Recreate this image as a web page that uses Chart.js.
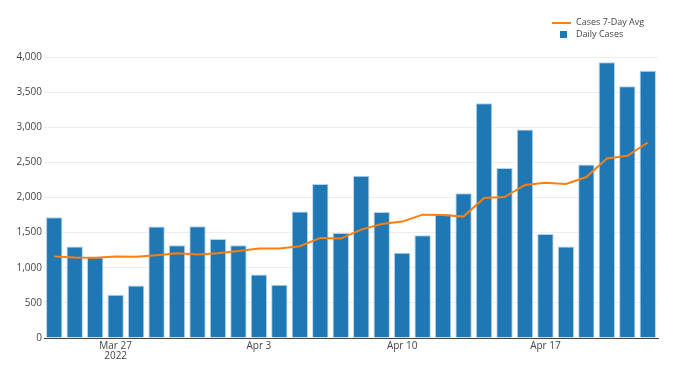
<!DOCTYPE html>
<html>
<head>
<meta charset="utf-8">
<script src="https://cdn.jsdelivr.net/npm/chart.js@4"></script>
<style>
  html, body { margin: 0; padding: 0; background: #fff; }
  #wrap { position: relative; width: 680px; height: 370px; }
  .legend { position: absolute; left: 552px; top: 16px; font-family: "Open Sans", sans-serif; font-size: 9px; color: #444; }
  .legend div { height: 12px; line-height: 12px; white-space: nowrap; }
  .swatch-line { display: inline-block; width: 19px; height: 2px; background: #ff7f0e; vertical-align: middle; margin-right: 5px; }
  .swatch-box { display: inline-block; width: 7px; height: 7px; background: #1f77b4; vertical-align: middle; margin: 0 9px 0 8px; }
</style>
</head>
<body>
<div id="wrap">
  <canvas id="casesChart" width="680" height="370"></canvas>
  <div class="legend">
    <div><span class="swatch-line"></span>Cases 7-Day Avg</div>
    <div><span class="swatch-box"></span>Daily Cases</div>
  </div>
</div>
<script>
// one entry per day, Mar 24 - Apr 22 2022
const days = [
    'Mar 24', 'Mar 25', 'Mar 26', 'Mar 27', 'Mar 28', 'Mar 29', 'Mar 30', 'Mar 31',
    'Apr 1', 'Apr 2', 'Apr 3', 'Apr 4', 'Apr 5', 'Apr 6', 'Apr 7', 'Apr 8', 'Apr 9',
    'Apr 10', 'Apr 11', 'Apr 12', 'Apr 13', 'Apr 14', 'Apr 15', 'Apr 16', 'Apr 17',
    'Apr 18', 'Apr 19', 'Apr 20', 'Apr 21', 'Apr 22'
];

const dailyCases = [
    1718, 1302, 1150, 615, 748, 1586, 1321, 1591, 1411, 1321, 904, 757, 1799, 2192, 1496,
    2310, 1794, 1212, 1463, 1766, 2059, 3342, 2419, 2968, 1482, 1302, 2471, 3924, 3583, 3806
];

const avgCases = [
    1160, 1146, 1141, 1160, 1155, 1179, 1207, 1188, 1207, 1240, 1273, 1273, 1306, 1425, 1415,
    1543, 1624, 1657, 1756, 1752, 1728, 1993, 2007, 2178, 2211, 2192, 2291, 2556, 2594, 2783
];

// labels shown under the x axis
const tickLabels = {
    'Mar 27': ['Mar 27', '2022'],
    'Apr 3': 'Apr 3',
    'Apr 10': 'Apr 10',
    'Apr 17': 'Apr 17'
};

const tickFont = { family: '"Open Sans", sans-serif', size: 10, lineHeight: 1.0 };

const ctx = document.getElementById('casesChart').getContext('2d');
new Chart(ctx, {
    data: {
        labels: days,
        datasets: [
            {
                type: 'line',
                label: 'Cases 7-Day Avg',
                data: avgCases,
                borderColor: '#ff7f0e',
                borderWidth: 2,
                pointRadius: 0,
                tension: 0,
                order: 0
            },
            {
                type: 'bar',
                label: 'Daily Cases',
                data: dailyCases,
                backgroundColor: '#1f77b4',
                borderColor: 'rgba(170, 205, 235, 0.9)',
                borderWidth: 1,
                barPercentage: 0.8,
                categoryPercentage: 1,
                order: 1
            }
        ]
    },
    options: {
        responsive: false,
        animation: false,
        layout: { padding: { top: 57, right: 22, bottom: 0, left: 0 } },
        plugins: {
            legend: { display: false },
            tooltip: { enabled: false }
        },
        scales: {
            x: {
                grid: { display: false, drawTicks: false },
                border: { display: true, color: '#444', width: 1 },
                ticks: {
                    autoSkip: false,
                    maxRotation: 0,
                    padding: 3,
                    color: '#444',
                    font: tickFont,
                    callback: function (value, index) {
                        return tickLabels[days[index]] || null;
                    }
                },
                afterFit: function (scale) { scale.height = 32; }
            },
            y: {
                min: 0,
                max: 4000,
                grid: { color: '#eee', drawTicks: false },
                border: { display: false },
                ticks: {
                    stepSize: 500,
                    padding: 2,
                    color: '#444',
                    font: { family: '"Open Sans", sans-serif', size: 10 },
                    callback: function (value) {
                        return value.toLocaleString('en-US');
                    }
                },
                afterFit: function (scale) { scale.width = 44; }
            }
        }
    }
});
</script>
</body>
</html>
